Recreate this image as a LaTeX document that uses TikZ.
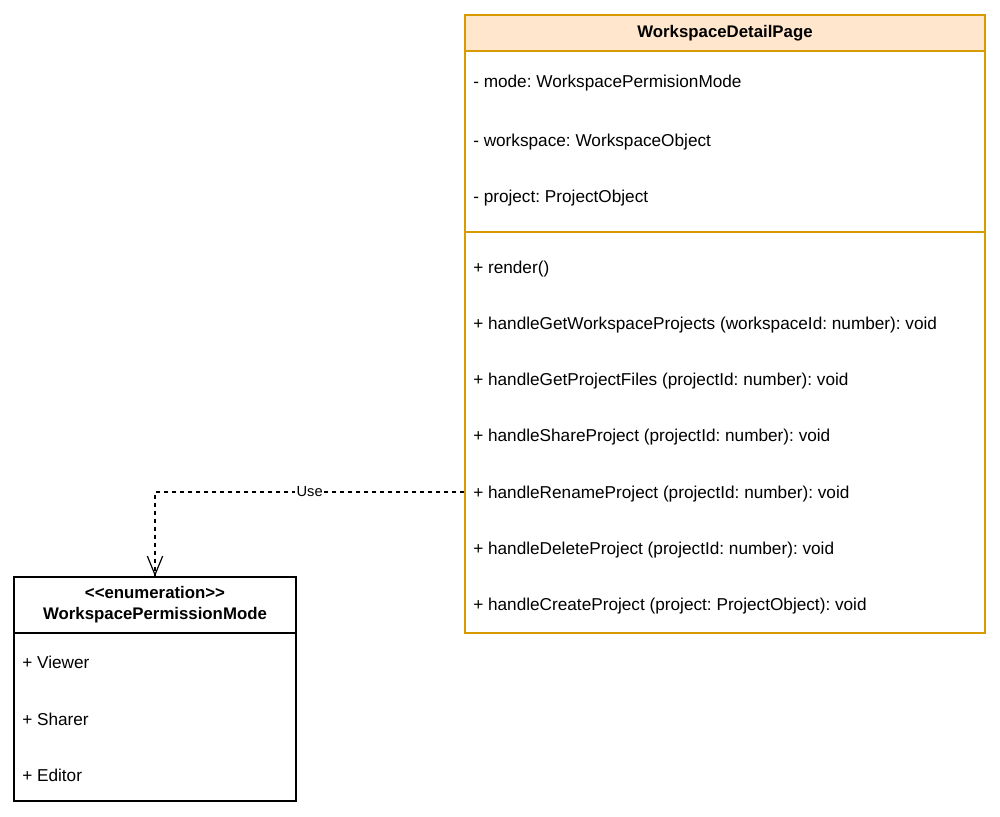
\documentclass[tikz,border=0pt]{standalone}
\usepackage{fontspec}
\setmainfont{Liberation Sans}
\usetikzlibrary{arrows.meta}
\definecolor{hdrfill}{HTML}{FFE6CC}
\definecolor{hdrline}{HTML}{D79B00}
\frenchspacing

\begin{document}
\begin{tikzpicture}[x=0.75pt,y=-0.75pt,
    every node/.style={font=\fontsize{12.9}{15.75}\selectfont, inner sep=0pt},
    title/.style={font=\fontsize{12.6}{15.75}\selectfont\bfseries},
    box/.style={draw=#1, line width=1pt},
    member/.style={anchor=west, yshift=-1.5pt},
    use/.style={dash pattern=on 3pt off 3pt, line width=0.9pt},
    usetip/.style={solid, line width=0.9pt, -{Straight Barb[length=14pt,width=11.5pt,line width=0.9pt]}},
    uselabel/.style={fill=white, inner sep=1pt, font=\fontsize{11}{13}\selectfont}]
    % \draw[step=50,help lines] (0,0) grid (1000,817);
    \fill[white] (0,0) rectangle (1000,817);
    \useasboundingbox (0,0) rectangle (1000,817);

    % page class
    \node[box=hdrline, fill=hdrfill, minimum width=390pt, minimum height=27pt, title] (wdp) at (725,33) {WorkspaceDetailPage};
    \node[box=hdrline, minimum width=390pt, minimum height=135.75pt] (wdp-attrs) at (725,141.5) {};
    \node[box=hdrline, minimum width=390pt, minimum height=300.75pt] (wdp-ops) at (725,432.5) {};

    \node[member] (mode) at (473,81) {- mode: WorkspacePermisionMode};
    \node[member] (workspace) at (473,140) {- workspace: WorkspaceObject};
    \node[member] (project) at (473,196) {- project: ProjectObject};

    \node[member] (render) at (473,267) {+ render()};
    \node[member] (getprojects) at (473,323) {+ handleGetWorkspaceProjects (workspaceId: number): void};
    \node[member] (getfiles) at (473,379) {+ handleGetProjectFiles (projectId: number): void};
    \node[member] (share) at (473,435) {+ handleShareProject (projectId: number): void};
    \node[member] (rename) at (473,492) {+ handleRenameProject (projectId: number): void};
    \node[member] (delete) at (473,548) {+ handleDeleteProject (projectId: number): void};
    \node[member] (create) at (473,604) {+ handleCreateProject (project: ProjectObject): void};

    % enumeration
    \node[box=black, minimum width=211.5pt, minimum height=42pt, align=center, title] (enum) at (155,605)
      {<\kern0pt<enumeration>\kern0pt>\\ WorkspacePermissionMode};
    \node[box=black, minimum width=211.5pt, minimum height=126pt] (enum-items) at (155,717) {};

    \node[member] (viewer) at (22,660) {+ Viewer};
    \node[member] (sharer) at (22,717) {+ Sharer};
    \node[member] (editor) at (22,773) {+ Editor};

    \path (wdp-ops.west |- rename) ++(0,-2) coordinate (use-start);
    \draw[use] (use-start) -| node[pos=0.25, uselabel] {Use} (enum.north);
    \draw[usetip] ([yshift=1pt]enum.north) -- (enum.north);
  \end{tikzpicture}
\end{document}
